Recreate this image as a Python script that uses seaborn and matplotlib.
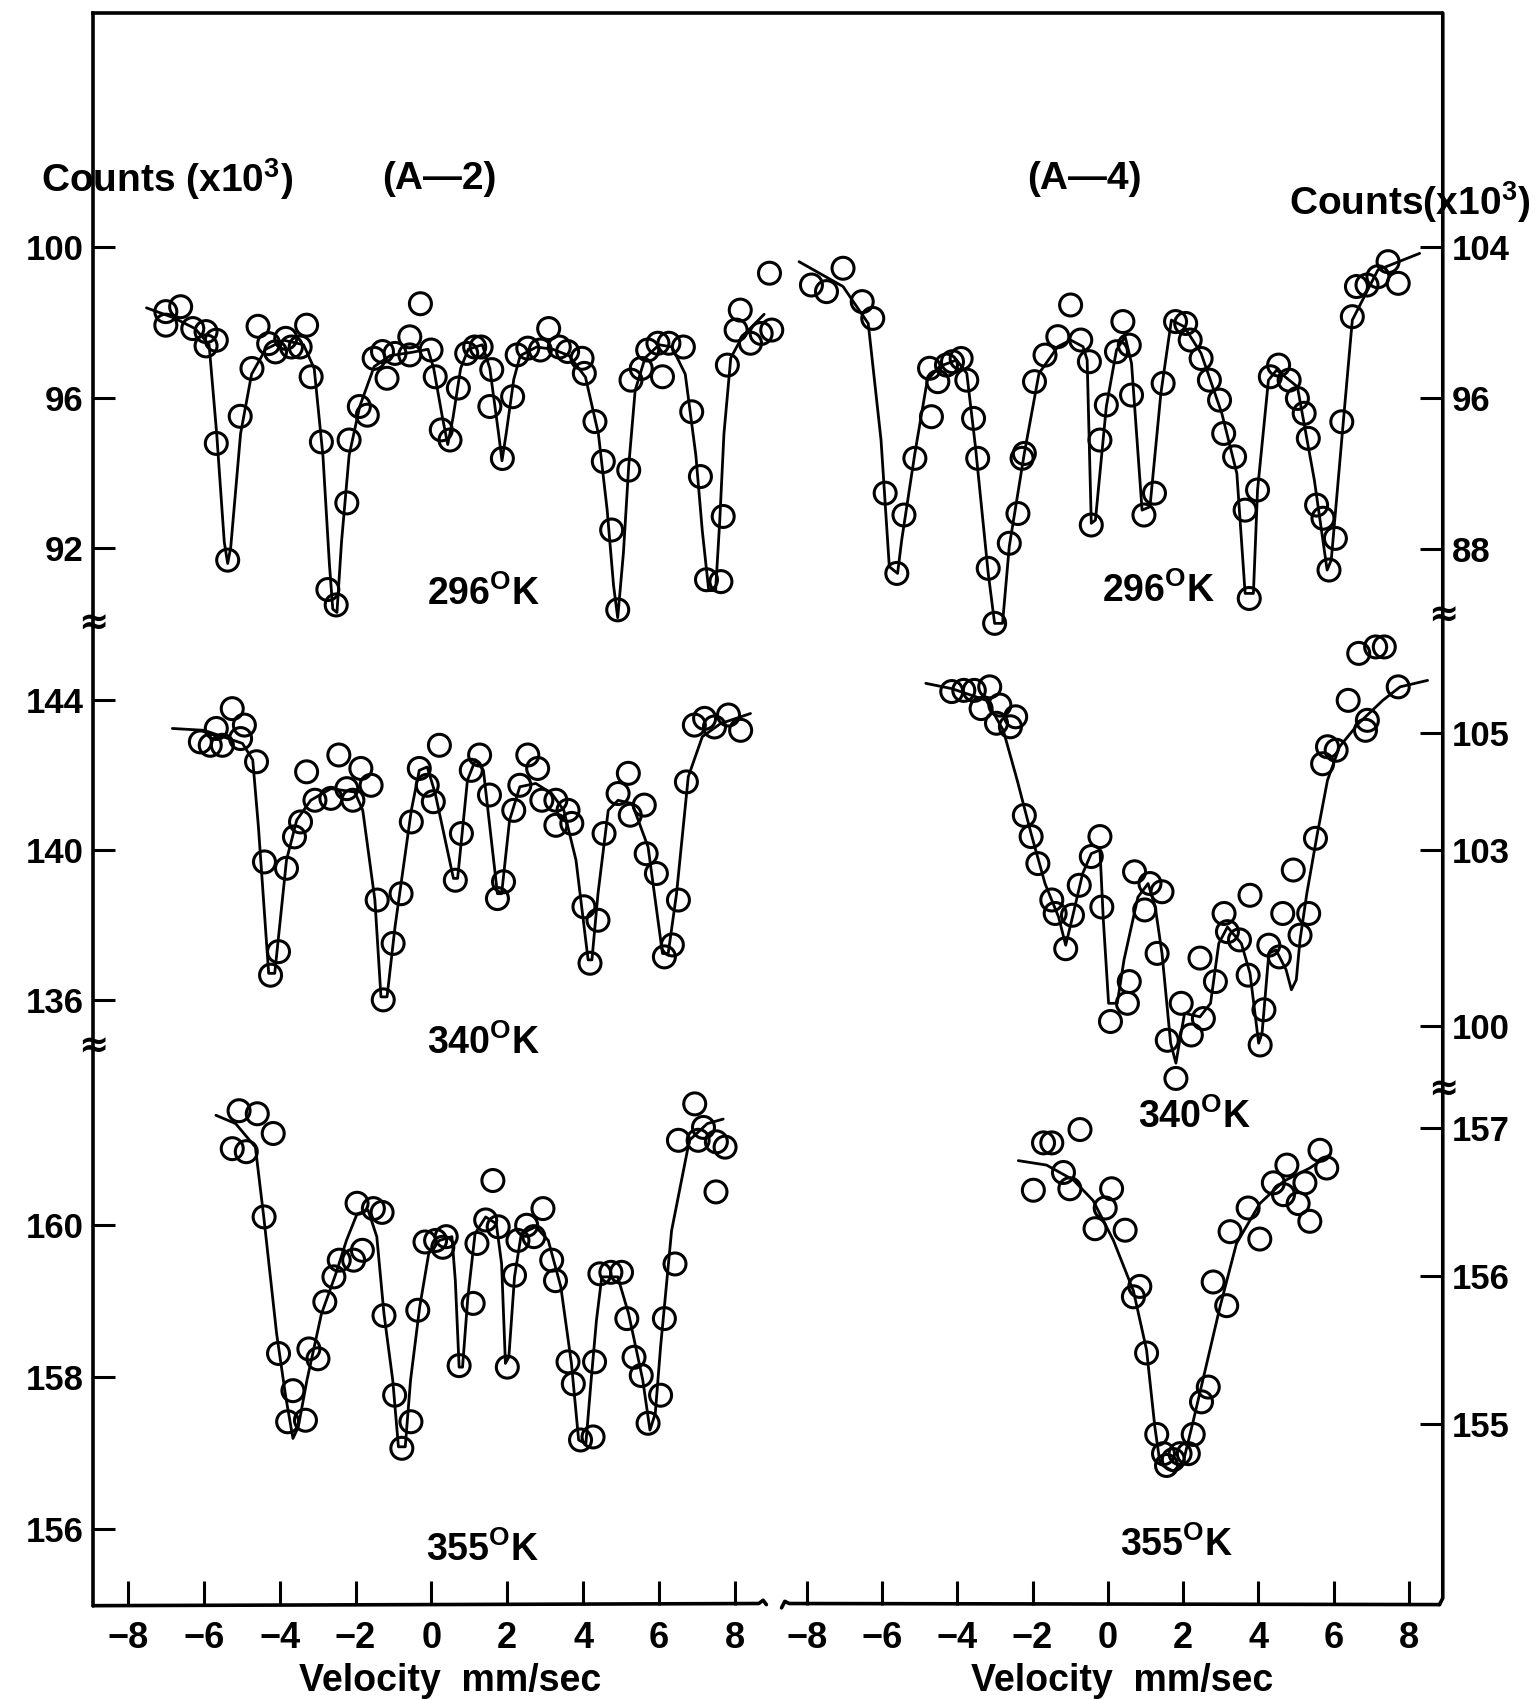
import matplotlib
matplotlib.use("Agg")
import matplotlib.pyplot as plt
from matplotlib import font_manager
import pandas as pd
import seaborn as sns

# ---------------- Sample A-2, 296 K ----------------
a2_296_v = [-7.00, -6.61, -7.00, -6.29, -5.94, -5.67, -5.94, -5.67, -5.37, -5.04,
            -4.73, -4.57, -4.29, -4.11, -3.84, -3.69, -3.46, -3.29, -3.17, -2.90,
            -2.73, -2.51, -2.23, -2.17, -1.90, -1.69, -1.51, -1.29, -1.17, -0.96,
            -0.57, -0.29, -0.57, -0.01, 0.10, 0.26, 0.49, 0.71, 0.93, 1.14,
            1.31, 1.59, 1.54, 1.87, 2.14, 2.26, 2.54, 2.87, 3.09, 3.37,
            3.59, 3.97, 4.03, 4.31, 4.53, 4.75, 4.91, 5.20, 5.26, 5.53,
            5.70, 5.97, 6.09, 6.26, 6.64, 6.86, 7.09, 7.25, 7.63, 7.69,
            7.80, 8.03, 8.14, 8.41, 8.69, 8.97, 8.91]
a2_296_c = [98.29, 98.42, 97.93, 97.84, 97.76, 97.53, 97.38, 94.79, 91.69, 95.51,
            96.78, 97.90, 97.44, 97.22, 97.58, 97.35, 97.35, 97.93, 96.56, 94.83,
            90.91, 90.50, 93.21, 94.88, 95.77, 95.54, 97.05, 97.23, 96.52, 97.18,
            97.14, 98.50, 97.62, 97.27, 96.56, 95.15, 94.88, 96.26, 97.18, 97.35,
            97.35, 96.75, 95.77, 94.39, 96.03, 97.14, 97.32, 97.27, 97.84, 97.35,
            97.23, 97.05, 96.65, 95.37, 94.31, 92.49, 90.37, 94.08, 96.47, 96.78,
            97.27, 97.45, 96.56, 97.45, 97.35, 95.63, 93.91, 91.17, 91.12, 92.85,
            96.87, 97.80, 98.33, 97.45, 97.71, 97.80, 99.31]
a2_296_fit_v = [-7.51, -6.80, -6.23, -5.86, -5.66, -5.46, -5.37, -5.29, -5.03, -4.74,
                -4.37, -3.89, -3.37, -3.09, -2.86, -2.69, -2.60, -2.49, -2.37, -2.17,
                -1.89, -1.51, -1.09, -0.51, -0.09, 0.06, 0.29, 0.43, 0.57, 0.77,
                0.97, 1.34, 1.54, 1.77, 1.86, 1.97, 2.17, 2.34, 2.77, 3.20,
                3.63, 4.06, 4.40, 4.63, 4.80, 4.91, 5.06, 5.20, 5.37, 5.63,
                6.00, 6.34, 6.69, 6.97, 7.14, 7.31, 7.49, 7.60, 7.71, 7.89,
                8.20, 8.77]
a2_296_fit_c = [98.39, 98.13, 97.84, 97.41, 95.05, 92.17, 91.60, 92.03, 95.05, 96.63,
                97.29, 97.53, 97.41, 96.78, 94.47, 91.60, 90.39, 90.30, 92.17, 94.47,
                95.77, 96.83, 97.12, 97.21, 97.29, 96.78, 95.48, 94.76, 95.48, 96.78,
                97.29, 97.41, 96.78, 95.05, 94.33, 95.05, 96.49, 97.12, 97.35, 97.29,
                97.12, 96.55, 95.05, 93.04, 91.02, 90.16, 91.88, 94.19, 96.20, 97.06,
                97.41, 97.35, 96.63, 94.47, 92.46, 90.88, 90.88, 92.75, 95.05, 97.06,
                97.64, 98.22]

# ---------------- Sample A-4, 296 K ----------------
a4_296_v = [-7.88, -7.48, -7.04, -6.53, -6.25, -5.92, -5.61, -5.42, -5.13, -4.74,
            -4.52, -4.69, -4.29, -4.13, -3.90, -3.75, -3.57, -3.46, -3.18, -3.01,
            -2.62, -2.39, -2.22, -2.28, -1.95, -1.67, -1.33, -0.99, -0.72, -0.49,
            -0.44, -0.21, -0.04, 0.23, 0.40, 0.57, 0.63, 0.96, 1.24, 1.47,
            1.80, 2.07, 2.19, 2.48, 2.70, 2.97, 3.08, 3.37, 3.65, 3.76,
            3.98, 4.32, 4.54, 4.82, 5.04, 5.22, 5.33, 5.55, 5.72, 5.88,
            6.05, 6.22, 6.50, 6.61, 6.89, 7.18, 7.45, 7.72]
a4_296_c = [101.99, 101.64, 102.88, 101.11, 100.22, 90.94, 86.68, 89.78, 92.79, 97.57,
            96.86, 95.00, 97.74, 97.92, 98.09, 96.94, 94.91, 92.79, 86.95, 84.03,
            88.28, 89.86, 93.05, 92.79, 96.86, 98.27, 99.25, 100.93, 99.07, 97.92,
            89.25, 93.76, 95.62, 98.45, 100.05, 98.80, 96.15, 89.78, 90.94, 96.77,
            100.05, 99.95, 99.07, 98.09, 96.94, 95.88, 94.11, 92.87, 90.04, 85.35,
            91.11, 97.12, 97.74, 96.94, 95.97, 95.18, 93.85, 90.31, 89.61, 86.86,
            88.54, 94.73, 100.31, 101.91, 101.99, 102.43, 103.23, 102.08]
a4_296_fit_v = [-8.21, -7.04, -6.37, -6.03, -5.81, -5.59, -5.48, -5.13, -4.80, -4.47,
                -4.02, -3.75, -3.52, -3.18, -3.01, -2.80, -2.62, -2.22, -1.83, -1.33,
                -0.99, -0.66, -0.55, -0.44, -0.33, -0.04, 0.23, 0.46, 0.63, 0.91,
                1.12, 1.41, 1.69, 2.03, 2.48, 3.03, 3.43, 3.65, 3.87, 3.98,
                4.27, 4.49, 5.04, 5.49, 5.83, 5.94, 6.28, 6.50, 7.18, 8.29]
a4_296_fit_c = [103.23, 101.91, 99.95, 93.76, 87.04, 86.68, 88.46, 93.06, 96.94, 97.67,
                98.01, 97.30, 93.41, 86.68, 84.03, 84.03, 88.12, 93.06, 97.30, 98.72,
                99.07, 98.72, 98.01, 89.34, 89.51, 95.54, 98.54, 99.25, 97.83, 90.04,
                90.22, 96.24, 100.13, 99.78, 98.36, 95.18, 91.99, 85.62, 85.62, 91.11,
                96.94, 97.48, 96.59, 91.64, 86.86, 87.39, 95.18, 100.13, 102.79, 103.67]

# ---------------- Sample A-2, 340 K ----------------
a2_340_v = [-6.09, -5.83, -5.67, -5.51, -5.25, -4.93, -5.03, -4.61, -4.40, -4.24,
            -4.03, -3.82, -3.61, -3.45, -3.29, -3.07, -2.65, -2.44, -2.23, -2.07,
            -1.86, -1.59, -1.43, -1.27, -1.01, -0.80, -0.53, -0.32, -0.11, 0.05,
            0.21, 0.63, 0.79, 1.05, 1.27, 1.53, 1.74, 1.90, 2.17, 2.33,
            2.54, 2.80, 2.91, 3.28, 3.60, 3.70, 3.28, 4.02, 4.18, 4.39,
            4.55, 4.92, 5.19, 5.24, 5.61, 5.66, 5.93, 6.14, 6.35, 6.51,
            6.72, 6.93, 7.20, 7.46, 7.83, 8.15]
a2_340_c = [142.89, 142.80, 143.25, 142.80, 143.78, 143.34, 142.98, 142.36, 139.68, 136.65,
            137.28, 139.51, 140.35, 140.75, 142.09, 141.33, 141.38, 142.54, 141.64, 141.33,
            142.18, 141.73, 138.66, 135.99, 137.50, 138.83, 140.75, 142.18, 141.73, 141.29,
            142.80, 139.19, 140.44, 142.13, 142.54, 141.47, 138.70, 139.15, 141.06, 141.73,
            142.54, 142.18, 141.33, 141.33, 141.06, 140.71, 140.66, 138.48, 136.97, 138.12,
            140.44, 141.51, 142.05, 140.93, 141.20, 139.90, 139.37, 137.14, 137.46, 138.66,
            141.82, 143.34, 143.52, 143.29, 143.61, 143.20]
a2_340_fit_v = [-6.83, -5.99, -4.98, -4.71, -4.56, -4.29, -4.13, -3.82, -3.55, -3.18,
                -2.65, -2.02, -1.81, -1.49, -1.33, -1.17, -0.96, -0.53, -0.32, -0.11,
                0.10, 0.58, 0.69, 0.95, 1.16, 1.37, 1.74, 1.85, 2.06, 2.33,
                2.75, 3.17, 3.49, 3.81, 4.13, 4.23, 4.39, 4.66, 4.92, 5.29,
                5.71, 6.09, 6.24, 6.46, 6.77, 7.14, 7.62, 8.41]
a2_340_fit_c = [143.25, 143.20, 142.85, 142.41, 140.62, 136.70, 136.70, 139.73, 140.80, 141.33,
                141.64, 141.55, 141.06, 138.66, 136.07, 136.07, 137.94, 141.06, 142.13, 142.22,
                141.51, 139.24, 139.24, 141.87, 142.41, 142.13, 138.83, 138.83, 140.80, 141.69,
                141.78, 141.51, 141.06, 139.73, 137.06, 137.06, 138.83, 141.06, 141.33, 141.24,
                140.08, 137.23, 137.23, 138.83, 141.96, 143.03, 143.38, 143.65]

# ---------------- Sample A-4, 340 K ----------------
a4_340_v = [-4.15, -3.83, -3.55, -3.14, -3.37, -2.87, -2.45, -2.96, -2.59, -2.22,
            -2.04, -1.86, -1.49, -1.40, -1.12, -0.94, -0.76, -0.44, -0.21, -0.16,
            0.07, 0.57, 0.52, 0.71, 0.98, 1.12, 1.44, 1.31, 1.58, 1.81,
            1.95, 2.22, 2.54, 2.45, 2.86, 3.09, 3.18, 3.50, 3.78, 3.73,
            4.05, 4.15, 4.28, 4.56, 4.65, 4.93, 5.11, 5.34, 5.52, 5.71,
            5.84, 6.07, 6.39, 6.90, 6.85, 6.67, 7.12, 7.35, 7.72]
a4_340_c = [105.70, 105.72, 105.72, 105.78, 105.41, 105.47, 105.27, 105.16, 105.10, 103.59,
            103.23, 102.77, 102.15, 101.92, 101.32, 101.89, 102.40, 102.89, 103.23, 102.03,
            100.08, 100.76, 100.39, 102.63, 101.98, 102.43, 102.29, 101.24, 99.76, 99.11,
            100.39, 99.85, 100.13, 101.16, 100.76, 101.92, 101.61, 101.47, 102.23, 100.87,
            99.68, 100.28, 101.38, 101.18, 101.92, 102.66, 101.55, 101.92, 103.20, 104.47,
            104.76, 104.70, 105.55, 105.21, 105.04, 106.35, 106.46, 106.46, 105.78]
a4_340_fit_v = [-4.84, -4.15, -3.23, -2.78, -2.41, -2.04, -1.67, -1.31, -1.12, -0.94,
                -0.67, -0.44, -0.21, -0.12, 0.02, 0.25, 0.43, 0.80, 1.07, 1.26,
                1.44, 1.67, 1.81, 1.90, 2.04, 2.45, 2.73, 2.95, 3.18, 3.55,
                3.78, 4.01, 4.10, 4.28, 4.47, 4.74, 4.88, 5.01, 5.11, 5.29,
                5.57, 5.84, 6.16, 6.67, 7.31, 7.77, 8.50]
a4_340_fit_c = [105.84, 105.75, 105.55, 105.04, 104.19, 103.28, 102.43, 101.86, 101.38, 101.86,
                102.60, 102.94, 103.00, 101.81, 100.39, 100.39, 101.13, 102.20, 102.43, 102.03,
                101.24, 99.71, 99.37, 99.71, 100.22, 100.16, 100.39, 101.41, 101.69, 101.41,
                100.90, 99.71, 99.88, 101.24, 101.30, 100.96, 100.62, 100.79, 101.47, 102.26,
                103.28, 104.19, 104.76, 105.16, 105.55, 105.78, 105.89]

# ---------------- Sample A-2, 355 K ----------------
a2_355_v = [-5.07, -4.59, -4.17, -5.25, -4.88, -4.41, -4.03, -3.65, -3.79, -3.32,
            -3.23, -2.99, -2.81, -2.57, -2.43, -2.05, -1.82, -1.96, -1.53, -1.30,
            -1.25, -0.97, -0.78, -0.54, -0.36, -0.17, 0.11, 0.30, 0.39, 0.73,
            1.10, 1.20, 1.43, 1.62, 1.76, 2.00, 2.19, 2.28, 2.51, 2.70,
            2.94, 3.17, 3.27, 3.60, 3.74, 3.93, 4.26, 4.30, 4.44, 4.73,
            5.01, 5.15, 5.34, 5.53, 5.71, 6.04, 6.14, 6.42, 6.51, 6.94,
            7.17, 7.03, 7.51, 7.74, 7.50]
a2_355_c = [161.51, 161.47, 161.21, 161.01, 160.97, 160.11, 158.31, 157.82, 157.41, 157.43,
            158.37, 158.24, 158.99, 159.32, 159.54, 159.54, 159.67, 160.29, 160.22, 160.17,
            158.81, 157.76, 157.06, 157.41, 158.88, 159.78, 159.80, 159.71, 159.85, 158.15,
            158.97, 159.76, 160.07, 160.59, 159.98, 158.13, 159.34, 159.80, 160.00, 159.85,
            160.22, 159.54, 159.27, 158.20, 157.91, 157.17, 157.21, 158.20, 159.36, 159.38,
            159.38, 158.77, 158.26, 158.02, 157.39, 157.76, 158.77, 159.49, 161.12, 161.60,
            161.29, 161.12, 161.10, 161.03, 160.44]
a2_355_fit_v = [-5.68, -5.16, -4.64, -4.41, -4.08, -3.84, -3.65, -3.51, -3.28, -2.90,
                -2.52, -2.24, -1.96, -1.67, -1.44, -1.25, -1.02, -0.87, -0.69, -0.55,
                -0.31, -0.07, 0.21, 0.54, 0.63, 0.73, 0.82, 0.96, 1.15, 1.43,
                1.71, 1.85, 1.95, 2.04, 2.19, 2.37, 2.75, 3.08, 3.41, 3.69,
                3.88, 4.07, 4.21, 4.35, 4.49, 4.91, 5.20, 5.57, 5.76, 5.90,
                6.04, 6.33, 6.80, 7.27, 7.69]
a2_355_fit_c = [161.45, 161.34, 161.03, 160.07, 158.57, 157.74, 157.19, 157.34, 157.96, 158.83,
                159.36, 159.80, 160.15, 160.20, 159.85, 158.83, 157.96, 157.08, 157.08, 157.96,
                158.92, 159.63, 159.80, 159.85, 159.27, 158.13, 158.13, 159.05, 159.89, 160.11,
                160.02, 159.49, 158.18, 158.26, 159.32, 159.89, 159.98, 159.80, 159.19, 158.18,
                157.17, 157.12, 157.96, 158.75, 159.32, 159.32, 158.83, 157.96, 157.30, 157.52,
                158.40, 159.93, 161.12, 161.34, 161.40]

# ---------------- Sample A-4, 355 K ----------------
a4_355_v = [-1.71, -1.49, -0.74, -1.98, -1.18, -1.01, 0.10, -0.07, -0.34, 0.46,
            0.85, 0.68, 1.03, 1.30, 1.48, 1.56, 1.74, 1.92, 2.14, 2.27,
            2.49, 2.67, 2.80, 3.16, 3.25, 3.73, 4.04, 4.40, 4.76, 5.24,
            5.64, 5.82, 4.67, 5.06, 5.37]
a4_355_c = [156.90, 156.90, 156.99, 156.58, 156.70, 156.59, 156.59, 156.46, 156.32, 156.31,
            155.93, 155.86, 155.48, 154.93, 154.80, 154.72, 154.76, 154.80, 154.80, 154.93,
            155.15, 155.25, 155.96, 155.80, 156.30, 156.46, 156.25, 156.63, 156.75, 156.63,
            156.85, 156.73, 156.55, 156.49, 156.37]
a4_355_fit_v = [-2.38, -1.63, -0.92, -0.39, 0.15, 0.68, 1.03, 1.25, 1.39, 1.74,
                2.01, 2.27, 2.63, 2.98, 3.42, 4.04, 4.67, 5.37, 5.90]
a4_355_fit_c = [156.78, 156.75, 156.65, 156.51, 156.24, 155.90, 155.50, 154.98, 154.73, 154.68,
                154.75, 155.02, 155.41, 155.79, 156.22, 156.49, 156.64, 156.73, 156.82]

velocity_ticks = [-8, -6, -4, -2, 0, 2, 4, 6, 8]

# ---------------- style ----------------
sns.set_theme(style="white")
installed = {f.name for f in font_manager.fontManager.ttflist}
WIDE = "Liberation Sans" if "Liberation Sans" in installed else "DejaVu Sans"
NARROW = "Liberation Sans Narrow" if "Liberation Sans Narrow" in installed else WIDE
plt.rcParams["font.family"] = [WIDE, "DejaVu Sans"]
plt.rcParams["font.weight"] = "bold"
plt.rcParams["text.color"] = "black"
plt.rcParams["mathtext.fontset"] = "custom"
plt.rcParams["mathtext.rm"] = f"{WIDE}:bold"
plt.rcParams["mathtext.it"] = f"{WIDE}:bold"
plt.rcParams["mathtext.bf"] = f"{WIDE}:bold"
plt.rcParams["axes.unicode_minus"] = True

INK = "black"
W, H = 1417.0, 1568.0          # layout grid for placing the panels

fig = plt.figure(figsize=(15.36, 17.0), dpi=100)
fig.patch.set_facecolor("white")

# full-figure layer for the frame, breaks and captions
frame = fig.add_axes([0, 0, 1, 1])
frame.set_xlim(0, W)
frame.set_ylim(H, 0)
frame.axis("off")


def rect(x0, x1, y0, y1):
    return [x0 / W, 1 - y1 / H, (x1 - x0) / W, (y1 - y0) / H]


LEFT_X = (86, 712)
RIGHT_X = (722, 1330)
LEFT_XLIM = (-8.914, 8.971)
RIGHT_XLIM = (-8.646, 8.876)

panels = [
    dict(v=a2_296_v, c=a2_296_c, fv=a2_296_fit_v, fc=a2_296_fit_c,
         x=LEFT_X, y=(12, 575), xlim=LEFT_XLIM, ylim=(90.01, 106.22),
         yticks=[92, 96, 100], side="left", bottom=False),
    dict(v=a2_340_v, c=a2_340_c, fv=a2_340_fit_v, fc=a2_340_fit_c,
         x=LEFT_X, y=(575, 965), xlim=LEFT_XLIM, ylim=(134.75, 146.06),
         yticks=[136, 140, 144], side="left", bottom=False),
    dict(v=a2_355_v, c=a2_355_c, fv=a2_355_fit_v, fc=a2_355_fit_c,
         x=LEFT_X, y=(965, 1480), xlim=LEFT_XLIM, ylim=(155.0, 162.36),
         yticks=[156, 158, 160], side="left", bottom=True),
    dict(v=a4_296_v, c=a4_296_c, fv=a4_296_fit_v, fc=a4_296_fit_c,
         x=RIGHT_X, y=(12, 568), xlim=RIGHT_XLIM, ylim=(84.43, 116.43),
         yticks=[88, 96, 104], side="right", bottom=False),
    dict(v=a4_340_v, c=a4_340_c, fv=a4_340_fit_v, fc=a4_340_fit_c,
         x=RIGHT_X, y=(568, 1005), xlim=RIGHT_XLIM, ylim=(98.92, 106.99),
         yticks=[100, 103, 105], side="right", bottom=False),
    dict(v=a4_355_v, c=a4_355_c, fv=a4_355_fit_v, fc=a4_355_fit_c,
         x=RIGHT_X, y=(1005, 1480), xlim=RIGHT_XLIM, ylim=(153.78, 157.26),
         yticks=[155, 156, 157], side="right", bottom=True),
]

for p in panels:
    ax = fig.add_axes(rect(p["x"][0], p["x"][1], p["y"][0], p["y"][1]))
    ax.set_facecolor("none")
    fit = pd.DataFrame({"velocity": p["fv"], "counts": p["fc"]})
    pts = pd.DataFrame({"velocity": p["v"], "counts": p["c"]})
    sns.lineplot(data=fit, x="velocity", y="counts", sort=False, estimator=None,
                 color=INK, linewidth=2.0, ax=ax, clip_on=False, zorder=2)
    sns.scatterplot(data=pts, x="velocity", y="counts", marker="o", s=250,
                    color=INK, linewidth=2.2, ax=ax, clip_on=False, zorder=3)
    ax.collections[-1].set_facecolor("none")
    ax.collections[-1].set_edgecolor(INK)
    ax.set_xlim(*p["xlim"])
    ax.set_ylim(*p["ylim"])
    ax.set_xlabel("")
    ax.set_ylabel("")
    for sp in ax.spines.values():
        sp.set_visible(False)

    ax.set_yticks(p["yticks"])
    ax.set_yticklabels([str(t) for t in p["yticks"]])
    if p["side"] == "right":
        ax.yaxis.tick_right()
        ax.tick_params(axis="y", right=True, left=False, labelright=True, labelleft=False)
    else:
        ax.tick_params(axis="y", left=True, right=False, labelleft=True, labelright=False)
    ax.tick_params(axis="y", direction="in", length=16, width=2.2, pad=7,
                   labelsize=25, colors=INK)
    for lab in ax.get_yticklabels():
        lab.set_fontfamily(NARROW)
        lab.set_fontweight("bold")

    if p["bottom"]:
        ax.set_xticks(velocity_ticks)
        ax.tick_params(axis="x", bottom=True, direction="in", length=17, width=2.2,
                       pad=12, labelsize=26, colors=INK)
        for lab in ax.get_xticklabels():
            lab.set_fontfamily(NARROW)
            lab.set_fontweight("bold")
    else:
        ax.set_xticks([])

# ---------------- frame ----------------
lw = 2.6
frame.plot([84, 1331], [12, 12], color=INK, lw=lw, solid_capstyle="butt")
frame.plot([86, 86], [12, 1481], color=INK, lw=lw)
frame.plot([1331, 1331, 1328], [12, 1474, 1480], color=INK, lw=lw)
frame.plot([86, 700, 704, 707], [1481, 1479, 1476, 1480], color=INK, lw=lw)
frame.plot([721, 724, 728, 1328], [1483, 1477, 1479, 1480], color=INK, lw=lw)
for xb, yb in [(86, 575), (86, 965), (1331, 568), (1331, 1005)]:
    frame.text(xb, yb, "\u2248", ha="center", va="center", fontsize=26,
               family="DejaVu Sans", color=INK)

# ---------------- captions ----------------
frame.text(38, 165, "Counts (x10$^{3}$)", ha="left", va="center", fontsize=28, color=INK)
frame.text(1412, 186, "Counts(x10$^{3}$)", ha="right", va="center", fontsize=28, color=INK)
frame.text(405, 165, "(A\u20142)", ha="center", va="center", fontsize=28, color=INK)
frame.text(1000, 165, "(A\u20144)", ha="center", va="center", fontsize=28, color=INK)

temps = [(446, 548, "296"), (1069, 545, "296"),
         (446, 962, "340"), (1102, 1030, "340"),
         (445, 1430, "355"), (1085, 1425, "355")]
for tx, ty, t in temps:
    frame.text(tx, ty, t + "$^{\\mathrm{O}}$K", ha="center", va="center",
               fontsize=27, color=INK)

frame.text(415, 1560, "Velocity  mm/sec", ha="center", va="baseline", fontsize=27,
           color=INK)
frame.text(1035, 1560, "Velocity  mm/sec", ha="center", va="baseline", fontsize=27,
           color=INK)

fig.savefig("out.png", dpi=100, facecolor="white")
